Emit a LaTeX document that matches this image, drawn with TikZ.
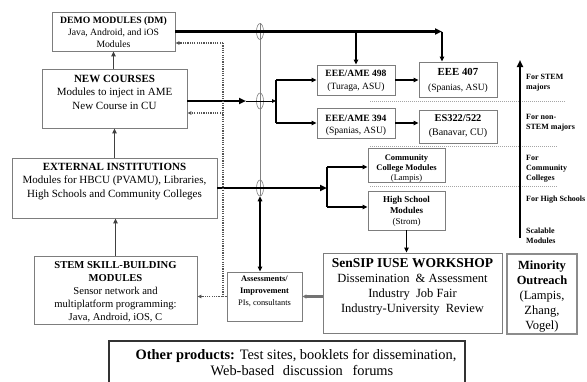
\documentclass[tikz,border=0pt]{standalone}
\usepackage{fontspec}
\setmainfont{Liberation Serif}
\usetikzlibrary{arrows.meta,shapes.geometric}
\newcommand\myfs[2]{\fontsize{#1}{#2}\selectfont}
\definecolor{boxgray}{RGB}{125,125,125}
\definecolor{dotgray}{RGB}{85,85,85}
\definecolor{sepgray}{RGB}{165,165,165}
\begin{document}
\begin{tikzpicture}[x=1pt,y=-1pt,
  box/.style={draw=boxgray,line width=0.9pt,inner sep=0pt},
  txt/.style={inner sep=0pt,align=center,anchor=north},
  lbl/.style={inner sep=0pt,align=left,anchor=north west,font=\myfs{8}{10}\bfseries},
  thk/.style={line width=2.2pt,-{Triangle[length=7pt,width=6pt]}},
  med/.style={line width=1.4pt,-{Triangle[length=5pt,width=4.5pt]}},
  thn/.style={line width=0.9pt,-{Triangle[length=4pt,width=3.5pt]}},
  brk/.style={line width=1.5pt},
  dotl/.style={draw=dotgray,line width=1.2pt,dash pattern=on 1.2pt off 1.1pt},
  sepl/.style={draw=sepgray,line width=0.7pt,dash pattern=on 1pt off 1pt},
  ell/.style={ellipse,draw=gray,line width=0.6pt,minimum width=7pt,minimum height=16pt,inner sep=0pt},
]
\useasboundingbox (0,0) rectangle (587,381);

% ---------- boxes ----------
\node[box,minimum width=123pt,minimum height=39pt] (dm) at (113.5,31.5) {};
\node[txt,font=\myfs{9.7}{12}] (dmt) at (113.5,16.6) {\textbf{DEMO MODULES (DM)}\\Java, Android, and iOS\\Modules};

\node[box,minimum width=145pt,minimum height=59pt] (nc) at (114.5,98.5) {};
\node[txt,font=\myfs{11}{13.5}] (nct) at (114.5,75) {\textbf{NEW COURSES}\\Modules to inject in AME\\New Course in CU};

\node[box,minimum width=205pt,minimum height=60pt] (ei) at (114.5,188) {};
\node[txt,font=\myfs{11}{13.5}] (eit) at (114.5,163) {\textbf{EXTERNAL INSTITUTIONS}\\Modules for HBCU (PVAMU), Libraries,\\High Schools and Community Colleges};

\node[box,minimum width=163pt,minimum height=68pt] (stem) at (115.5,290) {};
\node[txt,font=\myfs{10.6}{13}] (stemt) at (115.5,261.5) {\textbf{STEM SKILL-BUILDING}\\\textbf{MODULES}\\Sensor network and\\multiplatform programming:\\Java, Android, iOS, C};

\node[box,minimum width=75pt,minimum height=49pt] (as) at (264.5,296.5) {};
\node[txt,font=\myfs{8.4}{12}] (ast) at (264.5,276) {\textbf{Assessments/}\\\textbf{Improvement}\\PIs, consultants};

\node[box,minimum width=78pt,minimum height=30pt] (e498) at (356,80) {};
\node[txt,font=\myfs{9.6}{13}] (e498t) at (356,69.6) {\textbf{EEE/AME 498}\\(Turaga, ASU)};

\node[box,minimum width=78pt,minimum height=30pt] (e394) at (356,123) {};
\node[txt,font=\myfs{9.6}{12.5}] (e394t) at (356,114.6) {\textbf{EEE/AME 394}\\(Spanias, ASU)};

\node[box,minimum width=78pt,minimum height=35pt] (e407) at (458,79.5) {};
\node[txt,font=\myfs{9.5}{15}] (e407t) at (458,68.3) {{\myfs{10.8}{15}\bfseries EEE 407}\\(Spanias, ASU)};

\node[box,minimum width=78pt,minimum height=33pt] (es322) at (458,126.5) {};
\node[txt,font=\myfs{10}{14}] (es322t) at (458,114.4) {{\myfs{10.4}{14}\bfseries ES322/522}\\(Banavar, CU)};

\node[box,minimum width=77pt,minimum height=34pt] (cc) at (406.5,165) {};
\node[txt,font=\myfs{8.5}{10}] (cct) at (406.5,154) {\textbf{Community}\\\textbf{College Modules}\\(Lampis)};

\node[box,minimum width=77pt,minimum height=39pt] (hs) at (406.5,210.5) {};
\node[txt,font=\myfs{9}{11}] (hst) at (406.5,196) {\textbf{High School}\\\textbf{Modules}\\(Strom)};

\node[box,minimum width=179pt,minimum height=80pt] (sen) at (412.5,293) {};
\node[txt,font=\myfs{12.5}{15}] (sent) at (412.5,258.6) {{\myfs{13.5}{15}\bfseries SenSIP IUSE WORKSHOP}\\Dissemination\hspace{3pt} \& Assessment\\Industry\hspace{3pt} Job Fair\\Industry-University\hspace{3pt} Review};

\node[box,draw=black!45,line width=1.3pt,minimum width=70pt,minimum height=80pt] (mino) at (542,294) {};
\node[txt,font=\myfs{12.5}{15}] (minot) at (542,260.6) {\textbf{Minority}\\\textbf{Outreach}\\(Lampis,\\Zhang,\\Vogel)};

\node[draw=black!80,line width=1.1pt,inner sep=0pt,minimum width=356pt,minimum height=45pt] (oth) at (287,363.5) {};
\node[txt,font=\myfs{14.4}{16.5}] (otht) at (296,349) {\textbf{Other products:} Test sites, booklets for dissemination,\\\hspace*{12pt}Web-based\hspace{5pt} discussion\hspace{6pt} forums};

% ---------- right-hand labels ----------
\node[lbl] (l1) at (526,74) {For STEM\\majors};
\node[lbl] (l2) at (526,114) {For non-\\STEM majors};
\node[lbl] (l3) at (526,155) {For\\Community\\Colleges};
\node[lbl] (l4) at (526,196) {For High Schools};
\node[lbl] (l5) at (526,228) {Scalable\\Modules};

% ---------- separators ----------
\coordinate (s1a) at (370,101); \coordinate (s1b) at (565,101);
\coordinate (s2a) at (370,146); \coordinate (s2b) at (557,146);
\coordinate (s3a) at (370,186); \coordinate (s3b) at (557,186);
\draw[sepl] (s1a) -- (s1b);
\draw[sepl] (s2a) -- (s2b);
\draw[sepl] (s3a) -- (s3b);

% ---------- central gray bus with ellipses ----------
\node[ell] (e1) at (260,31.5) {};
\node[ell] (e2) at (260,101) {};
\node[ell] (e3) at (260,188) {};
\draw[gray,line width=0.6pt] (e1.north) -- (e3.south);

% ---------- vertical stack arrows ----------
\draw[med,draw=black!75] (dm.south |- nc.north) -- (dm.south);
\draw[med,draw=black!75] (ei.north) -- (ei.north |- nc.south);
\draw[med,draw=black!75] (stem.north) -- (stem.north |- ei.south);

% ---------- DM line ----------
\coordinate (c407) at (442,31.5);
\draw[thk] (dm.east) -- (c407);
\draw[med] (c407) -- (c407 |- e407.north);
\draw[med] (dm.east -| e498.north) -- (e498.north);

% ---------- NC line ----------
\coordinate (m1) at (246,101);
\coordinate (b1) at (276,101);
\draw[thk] (m1 -| nc.east) -- (m1);
\draw[thn] (m1) -- (b1);
\draw[brk] (e498.west -| b1) -- (e394.west -| b1);
\draw[med] (e498.west -| b1) -- (e498.west);
\draw[med] (e394.west -| b1) -- (e394.west);
\draw[med] (e498.east) -- (e498.east -| e407.west);
\draw[med] (e394.east) -- (e394.east -| es322.west);

% ---------- EI line ----------
\coordinate (b2) at (327,188);
\coordinate (b2t) at (327,167);
\coordinate (b2b) at (327,207);
\draw[thk] (ei.east) -- (b2);
\draw[brk] (b2t) -- (b2b);
\draw[med] (b2t) -- (b2t -| cc.west);
\draw[med] (b2b) -- (b2b -| hs.west);

% ---------- lower connectors ----------
\draw[med] (hs.south) -- (hs.south |- sen.north);
\draw[line width=2.2pt,draw=black!55,-{Triangle[length=4pt,width=4pt]}] (sen.west |- as.east) -- (as.east);
\draw[line width=1.2pt,{Triangle[length=5pt,width=4.5pt]}-{Triangle[length=5pt,width=4.5pt]}] (e3.south) -- (e3.south |- as.north);

% ---------- dotted feedback ----------
\coordinate (dv) at (223,43);
\coordinate (dv2) at (223,113);
\draw[dotl] (dv) -- (dv |- as.west);
\draw[dotl,-{Triangle[length=4pt,width=3.5pt]}] (dv) -- (dv -| dm.east);
\draw[dotl,-{Triangle[length=4pt,width=3.5pt]}] (dv2) -- (dv2 -| nc.east);
\draw[dotl,-{Triangle[length=4pt,width=3.5pt]}] (as.west) -- (as.west -| stem.east);

% ---------- right scale arrow ----------
\coordinate (ra1) at (520,238);
\coordinate (ra2) at (520,60);
\draw[thk] (ra1) -- (ra2);
\end{tikzpicture}
\end{document}
